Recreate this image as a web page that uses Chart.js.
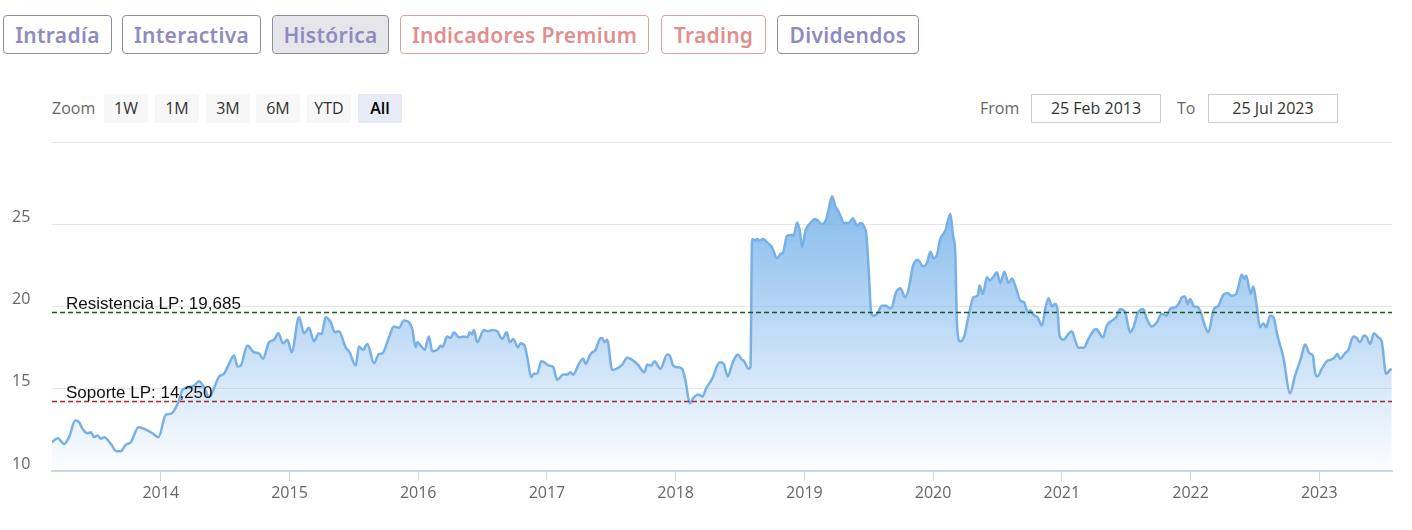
<!DOCTYPE html>
<html lang="es">
<head>
<meta charset="utf-8">
<title>Histórica</title>
<script src="https://cdn.jsdelivr.net/npm/chart.js@4.4.0/dist/chart.umd.min.js"></script>
<style>
    body {
        margin: 0;
        width: 1412px;
        height: 530px;
        overflow: hidden;
        background: #ffffff;
        position: relative;
        font-family: 'Open Sans', sans-serif;
    }
    .tab {
        position: absolute;
        top: 15px;
        height: 39px;
        box-sizing: border-box;
        border: 1px solid #8e8da6;
        border-radius: 4px;
        color: #8f8bc2;
        font-family: 'Noto Sans', sans-serif;
        font-weight: 600;
        font-size: 21px;
        letter-spacing: 0.3px;
        line-height: 39px;
        text-align: center;
        white-space: nowrap;
    }
    .tab.activa { background: #e6e6ea; }
    .tab.roja { color: #e08e8e; border-color: #d9a3a3; }
    .zoom-lbl, .rango-lbl {
        position: absolute;
        top: 94px;
        line-height: 29px;
        font-size: 16px;
        color: #666666;
    }
    .btn {
        position: absolute;
        top: 94px;
        height: 29px;
        width: 44px;
        background: #f7f7f7;
        color: #333333;
        font-size: 16px;
        line-height: 29px;
        text-align: center;
    }
    .btn.sel { background: #e6ebf5; color: #000000; font-weight: 600; }
    .fecha {
        position: absolute;
        top: 94px;
        height: 29px;
        width: 130px;
        box-sizing: border-box;
        border: 1px solid #cccccc;
        font-size: 16px;
        line-height: 27px;
        color: #333333;
        text-align: center;
    }
    #wrap {
        position: absolute;
        left: 0;
        top: 130px;
        width: 1412px;
        height: 400px;
    }
</style>
</head>
<body>
<div class="tab" style="left:3px;width:109px">Intradía</div>
<div class="tab" style="left:122px;width:139px">Interactiva</div>
<div class="tab activa" style="left:272px;width:117px">Histórica</div>
<div class="tab roja" style="left:400px;width:249px">Indicadores Premium</div>
<div class="tab roja" style="left:661px;width:105px">Trading</div>
<div class="tab" style="left:777px;width:142px">Dividendos</div>

<div class="zoom-lbl" style="left:52px">Zoom</div>
<div class="btn" style="left:104px">1W</div>
<div class="btn" style="left:155px">1M</div>
<div class="btn" style="left:206px">3M</div>
<div class="btn" style="left:256px">6M</div>
<div class="btn" style="left:307px">YTD</div>
<div class="btn sel" style="left:358px">All</div>

<div class="rango-lbl" style="left:980px">From</div>
<div class="fecha" style="left:1031px">25 Feb 2013</div>
<div class="rango-lbl" style="left:1177px">To</div>
<div class="fecha" style="left:1208px">25 Jul 2023</div>

<div id="wrap"><canvas id="grafico"></canvas></div>

<script>
// fechas en años decimales, precios de cierre aproximados
const fechas = [
    2013.155, 2013.198, 2013.249, 2013.288, 2013.335, 2013.366, 2013.392, 2013.431, 2013.457, 2013.482,
    2013.509, 2013.534, 2013.560, 2013.612, 2013.656, 2013.689, 2013.728, 2013.767, 2013.827, 2013.870,
    2013.936, 2013.982, 2014.039, 2014.078, 2014.103, 2014.142, 2014.168, 2014.220, 2014.259, 2014.297,
    2014.336, 2014.375, 2014.401, 2014.453, 2014.491, 2014.530, 2014.569, 2014.596, 2014.621, 2014.673,
    2014.724, 2014.763, 2014.794, 2014.841, 2014.880, 2014.914, 2014.950, 2014.984, 2015.017, 2015.074,
    2015.113, 2015.151, 2015.190, 2015.229, 2015.250, 2015.281, 2015.320, 2015.353, 2015.384, 2015.436,
    2015.467, 2015.514, 2015.540, 2015.571, 2015.605, 2015.656, 2015.695, 2015.721, 2015.773, 2015.811,
    2015.850, 2015.889, 2015.928, 2015.954, 2015.980, 2015.993, 2016.019, 2016.050, 2016.083, 2016.109,
    2016.148, 2016.174, 2016.187, 2016.226, 2016.252, 2016.277, 2016.316, 2016.355, 2016.381, 2016.401,
    2016.420, 2016.432, 2016.459, 2016.510, 2016.541, 2016.575, 2016.614, 2016.640, 2016.653, 2016.686,
    2016.712, 2016.738, 2016.774, 2016.795, 2016.826, 2016.852, 2016.878, 2016.898, 2016.925, 2016.956,
    2016.981, 2017.015, 2017.049, 2017.080, 2017.127, 2017.158, 2017.183, 2017.204, 2017.248, 2017.282,
    2017.300, 2017.339, 2017.377, 2017.411, 2017.429, 2017.447, 2017.468, 2017.507, 2017.540, 2017.585,
    2017.623, 2017.662, 2017.706, 2017.758, 2017.779, 2017.810, 2017.835, 2017.882, 2017.934, 2017.954,
    2017.981, 2018.016, 2018.050, 2018.076, 2018.110, 2018.141, 2018.179, 2018.206, 2018.239, 2018.283,
    2018.342, 2018.373, 2018.405, 2018.439, 2018.482, 2018.516, 2018.529, 2018.568, 2018.581, 2018.594,
    2018.620, 2018.633, 2018.653, 2018.679, 2018.710, 2018.749, 2018.788, 2018.814, 2018.835, 2018.866,
    2018.904, 2018.917, 2018.943, 2018.964, 2018.982, 2019.008, 2019.047, 2019.085, 2019.103, 2019.137,
    2019.171, 2019.189, 2019.215, 2019.241, 2019.266, 2019.285, 2019.305, 2019.344, 2019.378, 2019.409,
    2019.435, 2019.466, 2019.481, 2019.499, 2019.520, 2019.538, 2019.564, 2019.603, 2019.637, 2019.662,
    2019.681, 2019.707, 2019.745, 2019.784, 2019.810, 2019.844, 2019.880, 2019.922, 2019.953, 2019.978,
    2020.004, 2020.030, 2020.056, 2020.095, 2020.134, 2020.155, 2020.172, 2020.186, 2020.211, 2020.242,
    2020.276, 2020.314, 2020.346, 2020.361, 2020.387, 2020.418, 2020.439, 2020.465, 2020.496, 2020.522,
    2020.553, 2020.586, 2020.613, 2020.646, 2020.677, 2020.708, 2020.734, 2020.755, 2020.780, 2020.811,
    2020.846, 2020.871, 2020.897, 2020.923, 2020.949, 2020.967, 2020.982, 2021.013, 2021.052, 2021.078,
    2021.104, 2021.130, 2021.168, 2021.207, 2021.246, 2021.267, 2021.319, 2021.350, 2021.389, 2021.422,
    2021.453, 2021.492, 2021.531, 2021.557, 2021.588, 2021.630, 2021.661, 2021.700, 2021.738, 2021.777,
    2021.811, 2021.842, 2021.888, 2021.914, 2021.932, 2021.958, 2021.976, 2021.997, 2022.028, 2022.054,
    2022.088, 2022.113, 2022.139, 2022.178, 2022.217, 2022.256, 2022.287, 2022.321, 2022.354, 2022.372,
    2022.398, 2022.416, 2022.432, 2022.468, 2022.488, 2022.515, 2022.540, 2022.566, 2022.587, 2022.618,
    2022.644, 2022.675, 2022.721, 2022.773, 2022.812, 2022.856, 2022.890, 2022.923, 2022.950, 2022.967,
    2022.985, 2023.019, 2023.058, 2023.089, 2023.115, 2023.141, 2023.161, 2023.200, 2023.226, 2023.265,
    2023.291, 2023.317, 2023.348, 2023.369, 2023.394, 2023.425, 2023.459, 2023.485, 2023.519, 2023.550,
    2023.563
];
const precios = [
    11.75, 12.00, 11.65, 12.06, 13.07, 12.97, 12.57, 12.30, 12.36, 12.06,
    12.16, 11.96, 12.06, 11.65, 11.20, 11.20, 11.60, 11.75, 12.67, 12.57,
    12.30, 12.06, 13.42, 13.48, 13.68, 14.29, 14.94, 15.10, 15.20, 15.47,
    15.10, 14.49, 14.80, 15.75, 15.92, 16.52, 17.03, 16.36, 16.42, 17.64,
    17.23, 17.17, 16.83, 17.84, 17.99, 18.39, 17.78, 17.99, 17.23, 19.36,
    18.39, 18.72, 17.90, 18.39, 18.35, 19.36, 19.06, 18.45, 18.51, 17.53,
    17.23, 16.42, 17.58, 17.38, 17.74, 16.56, 17.13, 17.17, 18.14, 18.80,
    18.72, 19.16, 19.06, 18.65, 17.53, 17.84, 17.64, 17.38, 18.19, 17.29,
    17.38, 17.64, 17.53, 18.19, 18.10, 18.45, 18.14, 18.19, 18.14, 18.45,
    18.31, 18.59, 17.84, 18.59, 18.51, 18.59, 18.51, 18.14, 18.04, 18.45,
    17.84, 18.04, 17.53, 17.78, 17.64, 16.72, 15.71, 15.92, 15.95, 16.68,
    16.62, 16.42, 16.32, 15.55, 15.87, 15.87, 16.01, 15.87, 16.52, 16.83,
    16.52, 17.13, 17.38, 18.04, 18.10, 17.84, 17.99, 16.16, 16.22, 16.48,
    16.89, 16.77, 16.48, 16.01, 16.48, 16.42, 16.68, 16.22, 17.09, 17.03,
    16.42, 16.32, 16.22, 15.51, 14.13, 14.49, 14.66, 14.53, 15.06, 15.61,
    16.62, 16.52, 15.75, 16.52, 17.09, 16.77, 16.72, 16.22, 16.32, 24.13,
    24.03, 24.13, 24.03, 24.13, 23.93, 23.62, 22.95, 23.22, 23.32, 24.33,
    24.37, 24.33, 25.14, 24.64, 23.62, 24.64, 25.10, 25.35, 25.25, 25.04,
    25.35, 25.96, 26.73, 26.12, 25.79, 25.45, 25.10, 25.10, 25.39, 24.94,
    25.10, 24.84, 24.44, 22.31, 19.57, 19.46, 19.57, 20.07, 20.07, 19.91,
    19.97, 20.78, 21.13, 20.58, 21.09, 22.51, 22.87, 22.47, 22.67, 23.36,
    22.95, 23.16, 24.13, 24.64, 25.66, 24.33, 23.32, 18.86, 17.88, 18.21,
    19.46, 20.58, 20.68, 21.29, 20.78, 21.80, 21.60, 21.80, 22.10, 21.45,
    22.14, 21.45, 21.73, 21.09, 20.38, 20.27, 19.66, 19.77, 19.51, 19.36,
    18.86, 19.87, 20.52, 20.03, 20.18, 19.77, 18.25, 18.00, 18.35, 18.51,
    17.94, 17.50, 17.50, 18.04, 18.55, 18.65, 18.14, 18.86, 19.16, 19.36,
    19.87, 19.66, 18.45, 18.75, 19.60, 19.87, 19.26, 18.80, 19.06, 19.57,
    19.46, 19.87, 20.01, 20.27, 20.58, 20.62, 20.17, 20.48, 20.01, 20.01,
    19.46, 18.80, 18.45, 19.81, 20.07, 20.74, 20.82, 20.68, 20.78, 21.23,
    21.96, 21.70, 21.90, 20.78, 21.23, 19.97, 18.75, 19.00, 18.75, 19.46,
    19.36, 18.25, 16.93, 14.74, 15.81, 16.83, 17.70, 17.17, 17.03, 16.01,
    15.75, 16.22, 16.68, 16.77, 16.89, 17.13, 16.83, 17.17, 17.38, 18.19,
    18.10, 17.84, 18.25, 18.14, 17.74, 18.39, 18.14, 17.90, 15.92, 16.16,
    16.22
];

const anios = [2014, 2015, 2016, 2017, 2018, 2019, 2020, 2021, 2022, 2023];
const valoresY = [10, 15, 20, 25, 30];
const etiquetasY = ['10', '15', '20', '25', ''];

const nivelesValores = [19.685, 14.25];
const nivelesEtiquetas = ['Resistencia LP: 19,685', 'Soporte LP: 14,250'];
const nivelesColores = ['#1c5a22', '#a12a2e'];

const fechaInicio = 2013.155;
const fechaFin = 2023.565;

const lineasPlugin = {
    id: 'lineas',
    afterDatasetsDraw(chart) {
        const ctx = chart.ctx;
        const area = chart.chartArea;
        const y = chart.scales.y;
        ctx.save();
        for (let i = 0; i < nivelesValores.length; i++) {
            const py = Math.round(y.getPixelForValue(nivelesValores[i])) + 0.5;
            ctx.strokeStyle = nivelesColores[i];
            ctx.lineWidth = 1.5;
            ctx.setLineDash([5, 3]);
            ctx.beginPath();
            ctx.moveTo(area.left, py);
            ctx.lineTo(area.right, py);
            ctx.stroke();
            ctx.setLineDash([]);
            ctx.fillStyle = '#111111';
            ctx.font = '17px "Liberation Sans", sans-serif';
            ctx.textBaseline = 'alphabetic';
            ctx.fillText(nivelesEtiquetas[i], area.left + 14, py - 4);
        }
        ctx.restore();
    }
};

function relleno(context) {
    const chart = context.chart;
    const area = chart.chartArea;
    if (!area) return 'rgba(124,181,236,0.5)';
    const top = chart.scales.y.getPixelForValue(27);
    const g = chart.ctx.createLinearGradient(0, top, 0, area.bottom);
    g.addColorStop(0, 'rgba(124,181,236,0.95)');
    g.addColorStop(1, 'rgba(124,181,236,0.02)');
    return g;
}

new Chart(document.getElementById('grafico'), {
    type: 'line',
    data: {
        datasets: [{
            data: fechas.map((f, i) => ({ x: f, y: precios[i] })),
            borderColor: '#78b0e6',
            borderWidth: 2.5,
            backgroundColor: relleno,
            fill: 'start',
            pointRadius: 0,
            cubicInterpolationMode: 'monotone'
        }]
    },
    options: {
        responsive: true,
        maintainAspectRatio: false,
        animation: false,
        layout: {
            padding: { left: 12, right: 20, top: 11, bottom: 0 }
        },
        scales: {
            x: {
                type: 'linear',
                min: fechaInicio,
                max: fechaFin,
                afterBuildTicks: function (scale) {
                    scale.ticks = anios.map(a => ({ value: a }));
                },
                afterFit: function (scale) {
                    scale.height = 59;
                },
                ticks: {
                    color: '#666666',
                    padding: 3,
                    maxRotation: 0,
                    autoSkip: false,
                    font: { size: 16, family: 'Open Sans' },
                    callback: function (v) { return String(v); }
                },
                grid: {
                    drawOnChartArea: false,
                    drawTicks: true,
                    tickLength: 10,
                    color: '#ccd6eb'
                },
                border: {
                    display: true,
                    color: '#ccd6eb',
                    width: 2
                }
            },
            y: {
                type: 'linear',
                min: 10,
                max: 30,
                afterBuildTicks: function (scale) {
                    scale.ticks = valoresY.map(v => ({ value: v }));
                },
                afterFit: function (scale) {
                    scale.width = 40;
                },
                ticks: {
                    color: '#666666',
                    crossAlign: 'far',
                    labelOffset: -7,
                    font: { size: 16, family: 'Open Sans' },
                    callback: function (v) {
                        return etiquetasY[valoresY.indexOf(v)];
                    }
                },
                grid: {
                    color: '#e6e6e6',
                    drawTicks: false
                },
                border: { display: false }
            }
        },
        plugins: {
            legend: { display: false },
            tooltip: { enabled: false }
        }
    },
    plugins: [lineasPlugin]
});
</script>
</body>
</html>
